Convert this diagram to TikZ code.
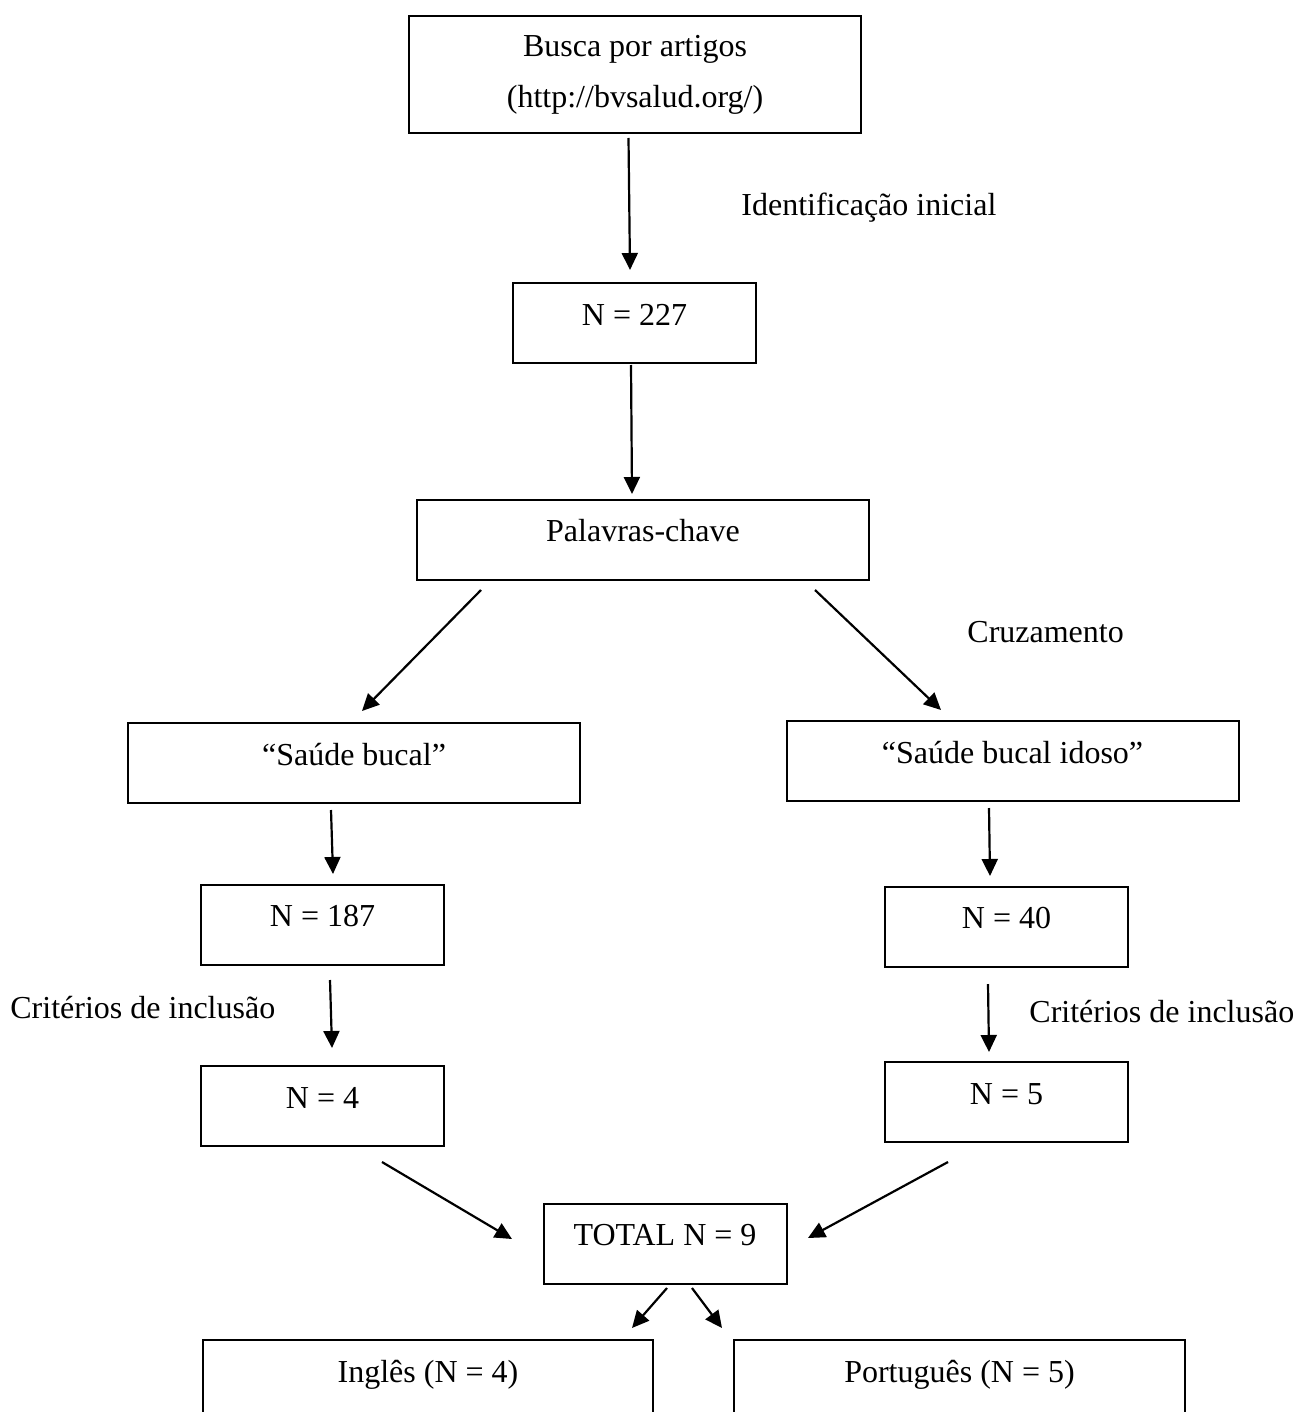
\documentclass[tikz,border=0pt]{standalone}
\usepackage{fontspec}
\setmainfont{Liberation Serif}
\usetikzlibrary{arrows.meta}
\begin{document}
\begin{tikzpicture}[x=0.5pt,y=-0.5pt,
  every node/.style={font=\fontsize{16}{25.5}\selectfont, inner sep=0pt},
  flowbox/.style={draw, line width=1pt, minimum height=40pt, text height=11pt, text depth=9pt},
  widebox/.style={flowbox, minimum width=226pt},
  narrowbox/.style={flowbox, minimum width=121.5pt},
  arr/.style={line width=1.1pt, -{Triangle[length=8.5pt,width=8pt]}},
  lbl/.style={anchor=base west}]
\useasboundingbox (0,0) rectangle (1296,1412);
\clip (0,0) rectangle (1296,1412);

% boxes
\node[draw, line width=1pt, minimum width=226pt, minimum height=58.5pt, align=center] (b1) at (635,74.5) {Busca por artigos\\(http://bvsalud.org/)};
\node[narrowbox] (n227) at (634.5,323) {N = 227};
\node[widebox] (pal) at (643,539.5) {Palavras-chave};
\node[widebox] (sb) at (354,763) {“Saúde bucal”};
\node[widebox] (sbi) at (1012.5,761) {“Saúde bucal idoso”};
\node[narrowbox] (n187) at (322.5,924.5) {N = 187};
\node[narrowbox] (n40) at (1006.5,926.5) {N = 40};
\node[narrowbox] (n4) at (322.5,1106) {N = 4};
\node[narrowbox] (n5) at (1006.5,1102) {N = 5};
\node[narrowbox] (tot) at (665,1243.5) {TOTAL N = 9};
\node[flowbox, minimum width=225pt] (ing) at (428,1380) {Inglês (N = 4)};
\node[flowbox, minimum width=225.5pt] (por) at (959.5,1380) {Português (N = 5)};

% labels
\node[lbl] (l1) at (741,216) {Identificação inicial};
\node[lbl] (l2) at (967,642) {Cruzamento};
\node[lbl] (l3) at (10,1018) {Critérios de inclusão};
\node[lbl] (l4) at (1029,1022) {Critérios de inclusão};

% arrow end points
\coordinate (a1s) at (628.5,138);  \coordinate (a1e) at (630,270);
\coordinate (a2s) at (631,365);    \coordinate (a2e) at (632,494);
\coordinate (a3s) at (481,590);    \coordinate (a3e) at (362,711);
\coordinate (a4s) at (815,590);    \coordinate (a4e) at (941,710);
\coordinate (a5s) at (331,810);    \coordinate (a5e) at (333,874);
\coordinate (a6s) at (989,808);    \coordinate (a6e) at (990,876);
\coordinate (a7s) at (330,980);    \coordinate (a7e) at (332,1048);
\coordinate (a8s) at (988,984);    \coordinate (a8e) at (989,1052);
\coordinate (a9s) at (382,1162);   \coordinate (a9e) at (512,1239);
\coordinate (a10s) at (948,1162);  \coordinate (a10e) at (808,1238);
\coordinate (a11s) at (667,1288);  \coordinate (a11e) at (632,1328);
\coordinate (a12s) at (692,1288);  \coordinate (a12e) at (722,1328);

\draw[arr] (a1s) -- (a1e);
\draw[arr] (a2s) -- (a2e);
\draw[arr] (a3s) -- (a3e);
\draw[arr] (a4s) -- (a4e);
\draw[arr] (a5s) -- (a5e);
\draw[arr] (a6s) -- (a6e);
\draw[arr] (a7s) -- (a7e);
\draw[arr] (a8s) -- (a8e);
\draw[arr] (a9s) -- (a9e);
\draw[arr] (a10s) -- (a10e);
\draw[arr] (a11s) -- (a11e);
\draw[arr] (a12s) -- (a12e);
\end{tikzpicture}
\end{document}
